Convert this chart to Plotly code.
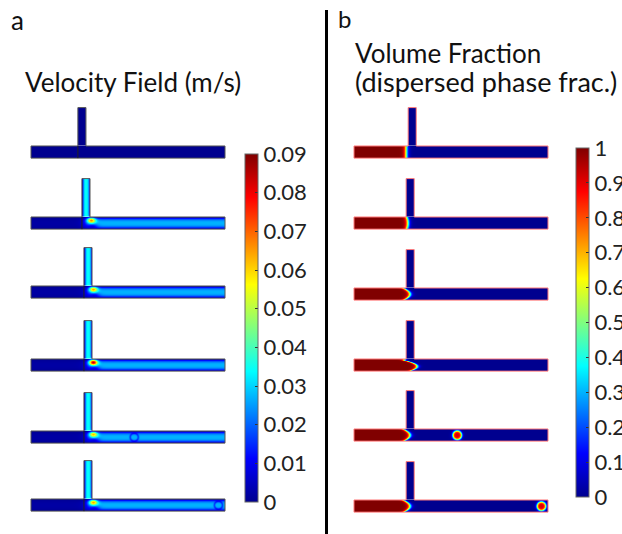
import numpy as np
import plotly.graph_objects as go

# ---------------- data ----------------
snapshots = ["t1", "t2", "t3", "t4", "t5", "t6"]

# panel a: velocity magnitude (m/s)
vel_inlet = [0.0, 0.002, 0.002, 0.002, 0.002, 0.002]
vel_side = [0.0, 0.034, 0.034, 0.034, 0.034, 0.034]
vel_outlet = [0.0, 0.027, 0.027, 0.027, 0.027, 0.027]
vel_jet = [0.0, 0.068, 0.066, 0.086, 0.064, 0.066]
vel_drop_dip = [0.0, 0.0, 0.0, 0.0, 0.010, 0.010]

# panel b: dispersed phase volume fraction
vf_front_um = [645, 650, 606, 620, 606, 606]
vf_bulge_um = [0, 15, 85, 160, 85, 85]
vf_bulge_centre_um = [75, 75, 75, 60, 75, 75]
vf_drop_x_um = [None, None, None, None, 1275, 2315]
vf_drop_peak = [0.0, 0.0, 0.0, 0.0, 0.92, 0.92]

vel_ticks = [0, 0.01, 0.02, 0.03, 0.04, 0.05, 0.06, 0.07, 0.08, 0.09]
vel_tick_text = ["0", "0.01", "0.02", "0.03", "0.04", "0.05", "0.06", "0.07", "0.08", "0.09"]
vf_ticks = [0, 0.1, 0.2, 0.3, 0.4, 0.5, 0.6, 0.7, 0.8, 0.9, 1]
vf_tick_text = ["0", "0.1", "0.2", "0.3", "0.4", "0.5", "0.6", "0.7", "0.8", "0.9", "1"]

# channel geometry (um)
CH_LEN = 2400
CH_W = 150
SIDE_W = 100
SIDE_H = 475
side_x_a = [580, 630, 655, 655, 655, 655]
side_x_b = [670, 645, 645, 645, 645, 645]

# ---------------- layout constants ----------------
W_PX, H_PX = 622, 534
PX_PER_UM = 194 / 2400
PAD = 20
row_top_a = [146, 217, 286, 359, 431, 499]
row_top_b = [146, 217, 288, 359, 429, 500]
left_a, left_b = 31, 354
FONT = "Lato"

JET = [[0.0, "rgb(0,0,143)"], [0.125, "rgb(0,0,255)"], [0.375, "rgb(0,255,255)"],
       [0.625, "rgb(255,255,0)"], [0.875, "rgb(255,0,0)"], [1.0, "rgb(128,0,0)"]]

DX = 6.25


def grids(xs):
    mx = np.arange(DX / 2, CH_LEN, DX)
    my = np.arange(DX / 2, CH_W, DX)
    sx = xs + np.arange(DX / 2, SIDE_W, DX)
    sy = CH_W + np.arange(DX / 2, SIDE_H, DX)
    return mx, my, sx, sy


def blunt(s):
    return np.clip(1 - np.abs(2 * s - 1) ** 2.6, 0, None)


def hotspot(i, X, Y, xs):
    xe = xs + SIDE_W
    base = vel_outlet[i] * blunt(112 / CH_W)
    amp = max(vel_jet[i] - base, 0)
    return amp * np.exp(-0.5 * (((X - (xe + 14)) / 38) ** 2 + ((Y - 112) / 26) ** 2))


def vel_main(i, X, Y, xs):
    xe = xs + SIDE_W
    prof = blunt(Y / CH_W)
    blend = 1 / (1 + np.exp(-(X - (xs + 0.5 * SIDE_W)) / 30))
    u = (vel_inlet[i] * (1 - blend) + vel_outlet[i] * blend) * prof
    u = u - 0.55 * vel_outlet[i] * prof * np.exp(-0.5 * (((X - (xe + 30)) / 45) ** 2 + ((Y - 35) / 25) ** 2))
    u = u + hotspot(i, X, Y, xs)
    if vf_drop_x_um[i] is not None:
        r = np.hypot(X - vf_drop_x_um[i], Y - CH_W / 2)
        u = u - vel_drop_dip[i] * np.exp(-((r - 50) / 14) ** 2) * prof
    return np.clip(u, 0, None)


def vel_sidef(i, X, Y, xs):
    prof = blunt((X - xs) / SIDE_W)
    return np.clip(vel_side[i] * prof + hotspot(i, X, Y, xs), 0, None)


def vf_main(i, X, Y):
    hw = CH_W / 2
    bul = vf_bulge_um[i] * np.clip(1 - ((Y - vf_bulge_centre_um[i]) / hw) ** 2, 0, None)
    front = vf_front_um[i] + bul
    f = 0.5 * (1 - np.tanh((X - front) / 30))
    if vf_drop_x_um[i] is not None:
        r = np.hypot(X - vf_drop_x_um[i], Y - CH_W / 2)
        f = f + vf_drop_peak[i] * 0.5 * (1 - np.tanh((r - 55) / 18))
    return np.clip(f, 0, 1)


fig = go.Figure()
layout_axes = {}


def add_axes(k, left_px, top_px):
    n = "" if k == 0 else str(k + 1)
    x0 = (left_px - PAD * PX_PER_UM) / W_PX
    x1 = (left_px + (CH_LEN + PAD) * PX_PER_UM) / W_PX
    top = top_px - (SIDE_H + PAD) * PX_PER_UM
    bot = top_px + (CH_W + PAD) * PX_PER_UM
    layout_axes["xaxis" + n] = dict(domain=[x0, x1], range=[-PAD, CH_LEN + PAD], visible=False,
                                    anchor="y" + n, fixedrange=True)
    layout_axes["yaxis" + n] = dict(domain=[1 - bot / H_PX, 1 - top / H_PX], range=[-PAD, CH_W + SIDE_H + PAD],
                                    visible=False, anchor="x" + n, fixedrange=True)
    return "x" + n, "y" + n


def outline(xs, xa, ya, color):
    xe = xs + SIDE_W
    fig.add_trace(go.Scatter(x=[0, CH_LEN, CH_LEN, xe, xe, xs, xs, 0, 0],
                             y=[0, 0, CH_W, CH_W, CH_W + SIDE_H, CH_W + SIDE_H, CH_W, CH_W, 0],
                             mode="lines", line=dict(color=color, width=1), xaxis=xa, yaxis=ya,
                             hoverinfo="skip", showlegend=False))


for i in range(len(snapshots)):
    # ---- panel a ----
    xa, ya = add_axes(i, left_a, row_top_a[i])
    xs = side_x_a[i]
    mx, my, sx, sy = grids(xs)
    MX, MY = np.meshgrid(mx, my)
    SX, SY = np.meshgrid(sx, sy)
    fig.add_trace(go.Heatmap(x=mx, y=my, z=vel_main(i, MX, MY, xs), coloraxis="coloraxis",
                             zsmooth="best", xaxis=xa, yaxis=ya, hoverinfo="skip"))
    fig.add_trace(go.Heatmap(x=sx, y=sy, z=vel_sidef(i, SX, SY, xs), coloraxis="coloraxis",
                             zsmooth="best", xaxis=xa, yaxis=ya, hoverinfo="skip"))
    outline(xs, xa, ya, "#555555")
    fig.add_trace(go.Scatter(x=[xs, xs], y=[0, CH_W], mode="lines", line=dict(color="#222222", width=1),
                             xaxis=xa, yaxis=ya, hoverinfo="skip", showlegend=False))

    # ---- panel b ----
    xb, yb = add_axes(i + 6, left_b, row_top_b[i])
    xs = side_x_b[i]
    mx, my, sx, sy = grids(xs)
    MX, MY = np.meshgrid(mx, my)
    fig.add_trace(go.Heatmap(x=mx, y=my, z=vf_main(i, MX, MY), coloraxis="coloraxis2",
                             zsmooth="best", xaxis=xb, yaxis=yb, hoverinfo="skip"))
    fig.add_trace(go.Heatmap(x=sx, y=sy, z=np.zeros((len(sy), len(sx))), coloraxis="coloraxis2",
                             zsmooth="best", xaxis=xb, yaxis=yb, hoverinfo="skip"))
    outline(xs, xb, yb, "#ff7a7a")


def cbar(x_px, top_px, len_px, vals, text):
    return dict(thickness=13, thicknessmode="pixels", len=len_px, lenmode="pixels",
                x=x_px / W_PX, xanchor="left", xpad=0, y=1 - top_px / H_PX, yanchor="top", ypad=0,
                tickvals=vals, ticktext=text, tickfont=dict(family=FONT, size=22, color="#222222"),
                outlinecolor="#666666", outlinewidth=1, ticks="inside", ticklen=3, tickcolor="#333333")


def label(text, x_px, y_px, size):
    return dict(text=text, x=x_px / W_PX, y=1 - y_px / H_PX, xref="paper", yref="paper",
                xanchor="left", yanchor="middle", showarrow=False,
                font=dict(family=FONT, size=size, color="#111111"))


fig.update_layout(
    width=W_PX, height=H_PX, margin=dict(l=0, r=0, t=0, b=0, autoexpand=False),
    paper_bgcolor="white", plot_bgcolor="rgba(0,0,0,0)", showlegend=False,
    coloraxis=dict(colorscale=JET, cmin=0, cmax=0.09,
                   colorbar=cbar(245, 154, 348, vel_ticks, vel_tick_text)),
    coloraxis2=dict(colorscale=JET, cmin=0, cmax=1,
                    colorbar=cbar(576, 148, 349, vf_ticks, vf_tick_text)),
    annotations=[
        label("a", 9, 20, 26),
        label("Velocity Field (m/s)", 23, 82, 26),
        label("b", 336, 19, 24),
        label("Volume Fraction", 353, 53, 26),
        label("(dispersed phase frac.)", 353, 81, 27),
    ],
    shapes=[dict(type="line", xref="paper", yref="paper", x0=326.5 / W_PX, x1=326.5 / W_PX,
                 y0=0, y1=1 - 10 / H_PX, line=dict(color="black", width=3))],
    **layout_axes,
)

fig.write_html("out.html", config={"displayModeBar": False},
               post_script="document.body.style.margin='0';document.body.style.overflow='hidden';")
